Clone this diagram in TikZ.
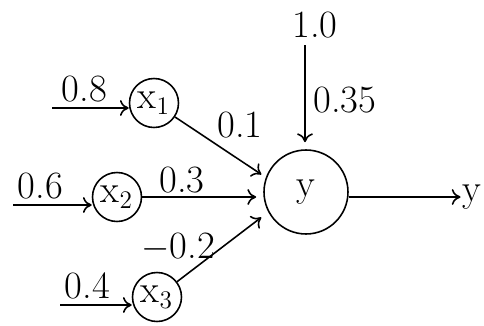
\documentclass[tikz,border=0pt]{standalone}
\usepackage{tikz}
\usetikzlibrary{arrows.meta}

\begin{document}
\begin{tikzpicture}[x=0.02cm, y=-0.02cm,
  every node/.style={font=\fontsize{22}{25}\selectfont},
  unit/.style={draw, circle, line width=0.9pt, inner sep=0pt, minimum size=0.98cm},
  neuron/.style={draw, circle, line width=0.9pt, inner sep=0pt, minimum size=1.68cm},
  arrow/.style={-{To[length=5pt,width=9pt]}, line width=0.9pt},
  weight/.style={inner sep=1pt}
]
\useasboundingbox (0,0) rectangle (484,325);
\node[unit] (x1) at (154,103) {x$_1$};
\node[unit] (x2) at (117,197) {x$_2$};
\node[unit] (x3) at (157,297) {x$_3$};
\node[neuron] (y) at (306,192) {y};
\node[weight] (yout) at (472,197) {y};
\coordinate (in1) at (52,108);
\coordinate (in2) at (13,205);
\coordinate (in3) at (60,305);
\coordinate (bias) at (305,45);
\node[weight] (one) at (315,25) {1.0};
% inputs
\draw[arrow] (in1) -- (in1 -| x1.west) node[pos=0.42, above, inner sep=3pt] (v1) {0.8};
\draw[arrow] (in2) -- (in2 -| x2.west) node[pos=0.35, above, inner sep=3pt] (v2) {0.6};
\draw[arrow] (in3) -- (in3 -| x3.west) node[pos=0.38, above, inner sep=3pt] (v3) {0.4};
% weights
\draw[arrow, shorten >=3pt] (x1) -- (y.160);
\draw[arrow, shorten >=4pt] (x2) -- (x2 -| y.west);
\draw[arrow, shorten >=5pt] (x3) -- (y.208);
\draw[arrow, shorten >=4pt] (bias) -- (bias |- y.north);
\node[weight] (w1) at (240,125) {0.1};
\node[weight] (w2) at (182,180) {0.3};
\node[weight] (w3) at (178,247) {$-$0.2};
\node[weight] (w0) at (345,100) {0.35};
% output
\draw[arrow] (y.east |- yout) -- (yout);
\end{tikzpicture}
\end{document}
